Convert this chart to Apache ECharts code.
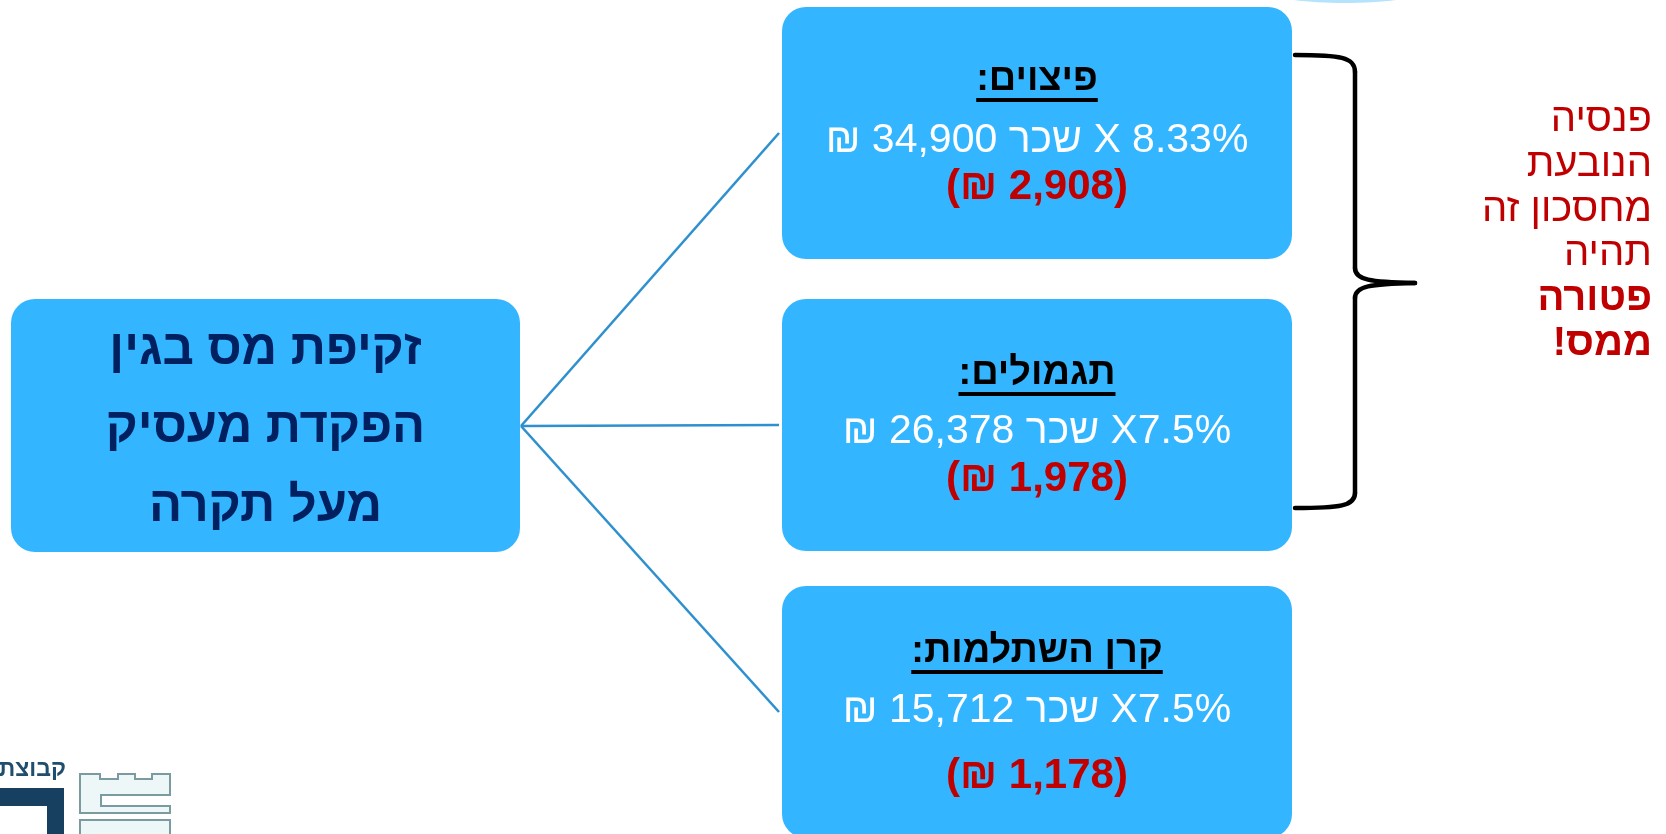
<!DOCTYPE html>
<html>
<head>
<meta charset="utf-8">
<script src="https://cdn.jsdelivr.net/npm/echarts@6/dist/echarts.min.js"></script>
<style>
html,body{margin:0;padding:0;background:#fff;}
#chart{width:1666px;height:834px;direction:rtl;}
</style>
</head>
<body>
<div id="chart" dir="rtl"></div>
<script>
// ---- content ----
const centerLines = ['זקיפת מס בגין', 'הפקדת מעסיק', 'מעל תקרה'];
const boxTitles = ['פיצוים:', 'תגמולים:', 'קרן השתלמות:'];
const boxFormulas = ['8.33% X שכר 34,900 ₪', 'X7.5% שכר 26,378 ₪', 'X7.5% שכר 15,712 ₪'];
const boxAmounts = ['(2,908 ₪)', '(1,978 ₪)', '(1,178 ₪)'];
const noteLines = ['פנסיה', 'הנובעת', 'מחסכון זה', 'תהיה', 'פטורה', 'ממס!'];
const noteBold = [false, false, false, false, true, true];
const logoText = 'קבוצת';

// ---- layout ----
const BOX_X = 782, BOX_W = 510, BOX_H = 252, R = 24;
const boxTops = [7, 299, 586];
const titleOff = [86, 88, 79], formulaOff = [148, 147, 139], amountOff = [195, 195, 205];
const LEFT = {x: 11, y: 299, w: 509, h: 253};
const LINE_FROM = [521, 426], LINE_TO_X = 779;
const BLUE = '#33B5FF', RED = '#C00000', NAVY = '#002060', LINK = '#2E90CE';
const FONT = '"Liberation Sans", Arial, sans-serif';

const TITLE_FS = 38, FORM_FS = 41, AMT_FS = 42, LEFT_FS = 49, NOTE_FS = 40;
const MID = 0.35; // baseline offset for 'middle' vertical align

const mctx = document.createElement('canvas').getContext('2d');
function textW(str, font) { mctx.font = font; return mctx.measureText(str).width; }

const g = [];
// top faint arc
g.push({type: 'ellipse', shape: {cx: 1345, cy: -14, rx: 90, ry: 17}, style: {fill: '#B5E3FC'}});

// left box
g.push({type: 'rect', shape: {x: LEFT.x, y: LEFT.y, width: LEFT.w, height: LEFT.h, r: R}, style: {fill: BLUE}});
const leftBase = [368, 446, 525];
centerLines.forEach((t, i) => {
  g.push({type: 'text', x: LEFT.x + LEFT.w / 2, y: leftBase[i] - MID * LEFT_FS,
    style: {text: t, fill: NAVY, font: 'bold ' + LEFT_FS + 'px ' + FONT, align: 'center', verticalAlign: 'middle'}});
});

// connecting lines
boxTops.forEach(top => {
  g.push({type: 'line', shape: {x1: LINE_FROM[0], y1: LINE_FROM[1], x2: LINE_TO_X, y2: top + BOX_H / 2},
    style: {stroke: LINK, lineWidth: 2.6}});
});

// right boxes
boxTops.forEach((top, i) => {
  const cx = BOX_X + BOX_W / 2;
  g.push({type: 'rect', shape: {x: BOX_X, y: top, width: BOX_W, height: BOX_H, r: R}, style: {fill: BLUE}});
  const tf = 'bold ' + TITLE_FS + 'px ' + FONT;
  const tb = top + titleOff[i];
  g.push({type: 'text', x: cx, y: tb - MID * TITLE_FS,
    style: {text: boxTitles[i], fill: '#000', font: tf, align: 'center', verticalAlign: 'middle'}});
  const w = textW(boxTitles[i], tf);
  g.push({type: 'rect', shape: {x: cx - w / 2, y: tb + 5, width: w, height: 4}, style: {fill: '#000'}});
  g.push({type: 'text', x: cx, y: top + formulaOff[i] - MID * FORM_FS,
    style: {text: boxFormulas[i], fill: '#fff', font: FORM_FS + 'px ' + FONT, align: 'center', verticalAlign: 'middle'}});
  g.push({type: 'text', x: cx, y: top + amountOff[i] - MID * AMT_FS,
    style: {text: boxAmounts[i], fill: RED, font: 'bold ' + AMT_FS + 'px ' + FONT, align: 'center', verticalAlign: 'middle'}});
});

// brace
const BS = {stroke: '#000', lineWidth: 4.5, lineCap: 'round', fill: null};
g.push({type: 'bezierCurve', shape: {x1: 1295, y1: 55, cpx1: 1340, cpy1: 55, cpx2: 1355, cpy2: 57, x2: 1355, y2: 72}, style: BS});
g.push({type: 'line', shape: {x1: 1355, y1: 72, x2: 1355, y2: 268}, style: BS});
g.push({type: 'bezierCurve', shape: {x1: 1355, y1: 268, cpx1: 1355, cpy1: 280, cpx2: 1370, cpy2: 282, x2: 1415, y2: 283}, style: BS});
g.push({type: 'bezierCurve', shape: {x1: 1415, y1: 283, cpx1: 1370, cpy1: 284, cpx2: 1355, cpy2: 286, x2: 1355, y2: 298}, style: BS});
g.push({type: 'line', shape: {x1: 1355, y1: 298, x2: 1355, y2: 493}, style: BS});
g.push({type: 'bezierCurve', shape: {x1: 1355, y1: 493, cpx1: 1355, cpy1: 506, cpx2: 1340, cpy2: 508, x2: 1295, y2: 508}, style: BS});

// note
noteLines.forEach((t, i) => {
  const base = 134 + i * 44.8;
  g.push({type: 'text', x: 1652, y: base - MID * NOTE_FS,
    style: {text: t, fill: RED, font: (noteBold[i] ? 'bold ' : '') + NOTE_FS + 'px ' + FONT, align: 'right', verticalAlign: 'middle'}});
});

// logo
g.push({type: 'text', x: 66, y: 778 - MID * 23,
  style: {text: logoText, fill: '#1F4E6E', font: 'bold 23px ' + FONT, align: 'right', verticalAlign: 'middle'}});
g.push({type: 'rect', shape: {x: 0, y: 788, width: 64, height: 18}, style: {fill: '#173F5F'}});
g.push({type: 'rect', shape: {x: 47, y: 788, width: 17, height: 60}, style: {fill: '#173F5F'}});
g.push({type: 'polygon', shape: {points: [[80,774],[100,774],[100,779],[118,779],[118,774],[135,774],[135,779],[152,779],[152,774],[170,774],[170,795],[101,795],[101,806],[170,806],[170,813],[80,813]]},
  style: {fill: '#EEF7F7', stroke: '#7A9BA0', lineWidth: 2}});
g.push({type: 'rect', shape: {x: 80, y: 820, width: 90, height: 30}, style: {fill: '#EEF7F7', stroke: '#7A9BA0', lineWidth: 2}});

const chart = echarts.init(document.getElementById('chart'), null, {renderer: 'canvas'});
chart.setOption({animation: false, backgroundColor: '#fff', graphic: {elements: g}});
</script>
</body>
</html>
